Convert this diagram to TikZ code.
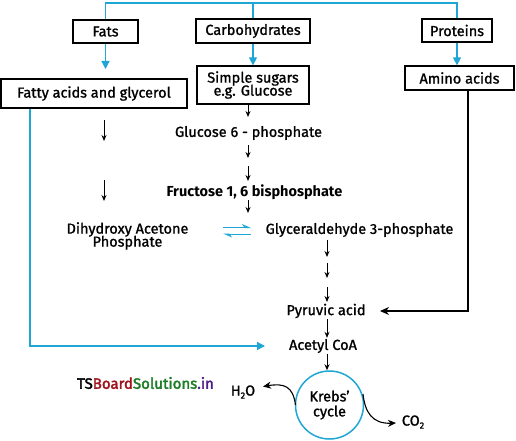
\documentclass[tikz,border=0pt]{standalone}
\usepackage{fontspec}
\setmainfont{Fira Sans}[FakeBold=1.2]
\newfontfamily\plainfont{Fira Sans}
\newfontfamily\wmfont{Fira Sans}[FakeBold=2.5]
\usetikzlibrary{arrows.meta}
\definecolor{cyanb}{RGB}{32,166,212}
\definecolor{wmred}{RGB}{160,20,30}
\definecolor{wmgreen}{RGB}{30,125,40}
\definecolor{wmpurple}{RGB}{80,30,140}
\tikzset{
  txt/.style={font=\fontsize{14.5}{16}\selectfont},
  box/.style={draw=black, line width=1.3pt, inner sep=2pt, align=center, txt},
  lbl/.style={inner sep=1pt, align=center, txt},
  barrow/.style={draw=cyanb, line width=1.3pt, -{Triangle[length=8pt,width=8pt]}},
  bline/.style={draw=cyanb, line width=1.3pt},
  karrow/.style={draw=black, line width=0.9pt, -{Stealth[length=6pt,width=5pt]}},
  harrow/.style={draw=cyanb, line width=1pt, -{Stealth[harpoon,length=8pt,width=7pt]}},
  kcurve/.style={draw=black, line width=1.1pt, -{Stealth[length=8pt,width=7pt]}},
}
\begin{document}
\begin{tikzpicture}[x=1pt,y=-1pt]
\useasboundingbox (0,0) rectangle (516,441);
% boxes
\node[box, minimum width=65pt, minimum height=23pt] (fats) at (105.5,31.5) {Fats};
\node[box, minimum width=114pt, minimum height=24pt] (carbs) at (253,31) {Carbohydrates};
\node[box, minimum width=70pt, minimum height=23pt] (prot) at (457,30.5) {Proteins};
\node[box, minimum width=112pt, minimum height=38pt] (sugars) at (253,85) {Simple sugars\\[-3pt]e.g. Glucose};
\node[box, minimum width=186pt, minimum height=29pt] (fatty) at (94,93.5) {Fatty acids and glycerol};
\node[box, minimum width=109pt, minimum height=24pt] (amino) at (459.5,78) {Amino acids};
% top connector
\coordinate (top) at (253,3);
\draw[bline] (fats.north) |- (top) -| (prot.north);
\draw[bline] (top) -- (carbs.north);
\coordinate (fa) at (105.5,69);
\draw[barrow] (fats.south) -- (fa);
\draw[barrow] (carbs.south) -- (carbs.south |- sugars.north);
\draw[barrow] (prot.south) -- (prot.south |- amino.north);
% texts
\node[lbl] (glu) at (248.5,133) {Glucose 6 - phosphate};
\node[lbl, font=\fontsize{14.5}{16}\selectfont\plainfont\bfseries] (fru) at (254.5,192) {Fructose 1, 6 bisphosphate};
\node[lbl] (dhap) at (127.5,236) {Dihydroxy Acetone\\[-3pt]Phosphate};
\node[lbl] (g3p) at (359.5,230) {Glyceraldehyde 3-phosphate};
\node[lbl] (pyr) at (326,311) {Pyruvic acid};
\node[lbl] (acoa) at (323,346) {Acetyl CoA};
\node[circle, draw=cyanb, line width=1.5pt, minimum size=68pt, inner sep=0pt, align=center, txt] (krebs) at (329.5,405) {Krebs’\\[-1pt]cycle};
\node[lbl] (h2o) at (243,392) {H\raisebox{-3pt}{\fontsize{9}{10}\selectfont 2}O};
\node[lbl] (co2) at (413,422) {CO\raisebox{-3pt}{\fontsize{9}{10}\selectfont 2}};
\node[inner sep=0pt, font=\fontsize{15}{16}\selectfont\wmfont] (wm) at (145.5,383) {TS\textcolor{wmred}{Board}\textcolor{wmgreen}{Solutions}\textcolor{wmpurple}{.in}};
% main chain arrows
\coordinate (a1) at (248,117);
\draw[karrow] (sugars.south -| a1) -- (a1);
\coordinate (a2s) at (248,145); \coordinate (a2e) at (248,158);
\draw[karrow] (a2s) -- (a2e);
\coordinate (a3s) at (248,166); \coordinate (a3e) at (248,181);
\draw[karrow] (a3s) -- (a3e);
\coordinate (a4s) at (248,200); \coordinate (a4e) at (248,213);
\draw[karrow] (a4s) -- (a4e);
% left column arrows
\coordinate (l1s) at (104,120); \coordinate (l1e) at (104,141);
\draw[karrow] (l1s) -- (l1e);
\coordinate (l2s) at (104,180); \coordinate (l2e) at (104,201);
\draw[karrow] (l2s) -- (l2e);
% equilibrium
\coordinate (e1) at (223,227.5); \coordinate (e2) at (251,227.5);
\coordinate (e3) at (251,234); \coordinate (e4) at (223,234);
\draw[harrow] (e1) -- (e2);
\draw[harrow] (e3) -- (e4);
% right column
\coordinate (b1s) at (327,240); \coordinate (b1e) at (327,257);
\draw[karrow] (b1s) -- (b1e);
\coordinate (b2s) at (327,263); \coordinate (b2e) at (327,278);
\draw[karrow] (b2s) -- (b2e);
\coordinate (b3s) at (327,287); \coordinate (b3e) at (327,302);
\draw[karrow] (b3s) -- (b3e);
\draw[karrow] (pyr.south -| 327,0) -- (acoa.north -| 327,0);
\draw[karrow] (acoa.south -| 327,0) -- (krebs.north -| 327,0);
% side connectors
\coordinate (fl) at (30,0);
\coordinate (atip) at (265,346);
\draw[barrow] (fatty.south -| fl) |- (atip);
\coordinate (al) at (468,0);
\coordinate (ptip) at (380,311);
\draw[draw=black, line width=1.1pt, -{Stealth[length=9pt,width=8pt]}] (amino.south -| al) |- (ptip);
% krebs products
\coordinate (w0) at (295.5,405);
\coordinate (w1) at (263,386.5);
\draw[kcurve] (w0) .. controls (293,386) and (284,383) .. (w1);
\coordinate (c0) at (363,394);
\coordinate (c1) at (396,423);
\draw[kcurve] (c0) .. controls (365,412) and (372,424) .. (c1);
\end{tikzpicture}
\end{document}
